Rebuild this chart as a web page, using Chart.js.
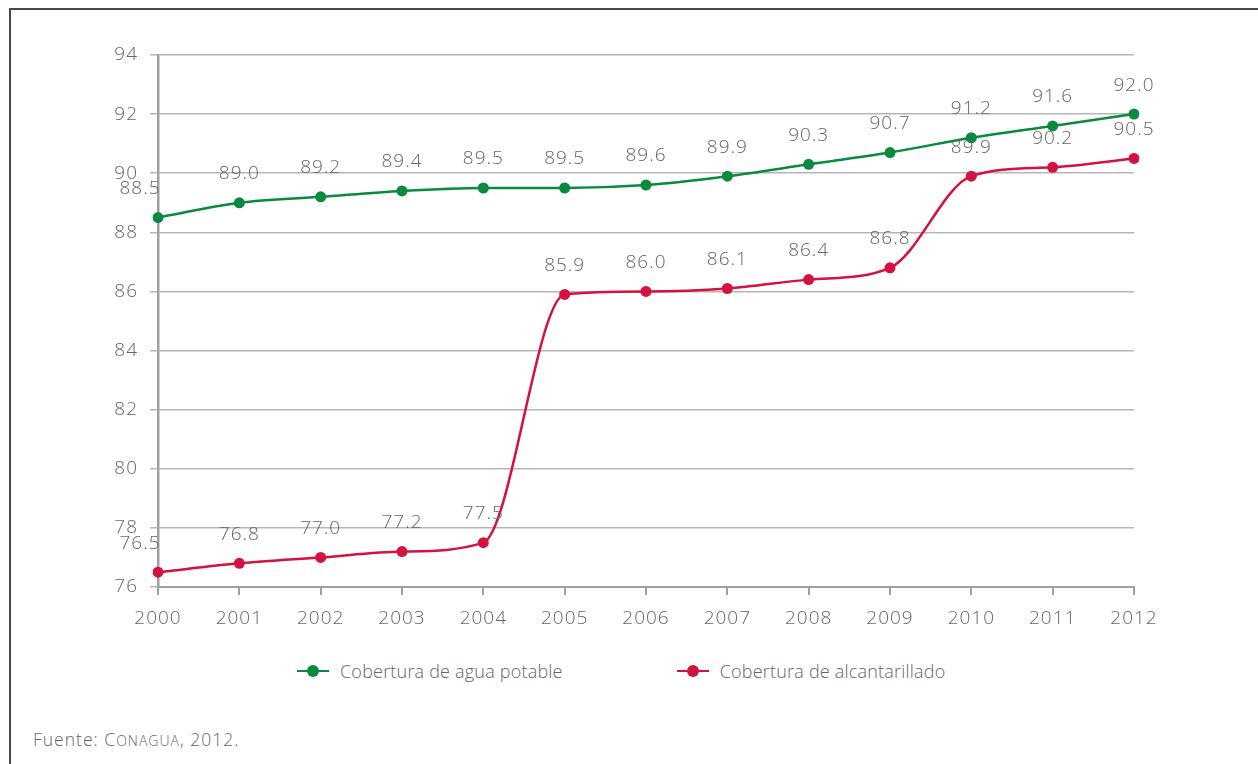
<!DOCTYPE html>
<html lang="es">
<head>
<meta charset="utf-8">
<title>Cobertura de agua potable y alcantarillado</title>
<script src="https://cdn.jsdelivr.net/npm/chart.js@4.4.1/dist/chart.umd.min.js"></script>
<style>
    html, body {
        margin: 0;
        padding: 0;
        width: 1258px;
        height: 764px;
        background: #fff;
        overflow: hidden;
        font-family: 'Open Sans', 'DejaVu Sans', sans-serif;
    }
    .frame {
        position: absolute;
        left: 9px;
        top: 8px;
        width: 1300px;
        height: 800px;
        border-left: 2px solid #4a4a4a;
        border-top: 2px solid #4a4a4a;
    }
    #chartWrap {
        position: absolute;
        left: 0;
        top: 0;
        width: 1258px;
        height: 640px;
    }
    .legend {
        position: absolute;
        top: 658px;
        left: 297px;
        display: flex;
        align-items: center;
        font-size: 18px;
        font-weight: 300;
        letter-spacing: 0.2px;
        color: #666;
    }
    .legend .item {
        display: flex;
        align-items: center;
    }
    .legend .mark {
        position: relative;
        width: 32px;
        height: 26px;
        margin-right: 11px;
    }
    .legend .mark .ln {
        position: absolute;
        left: 0;
        right: 0;
        top: 12px;
        height: 2px;
    }
    .legend .mark .dot {
        position: absolute;
        left: 10px;
        top: 7px;
        width: 12px;
        height: 12px;
        border-radius: 50%;
    }
    .footer {
        position: absolute;
        left: 33px;
        top: 727px;
        font-size: 17.5px;
        font-weight: 300;
        letter-spacing: 1px;
        color: #666;
    }
    .sc {
        font-size: 0.8em;
    }
</style>
</head>
<body>
<div class="frame"></div>
<div id="chartWrap"><canvas id="coberturaChart"></canvas></div>
<div class="legend" id="legend"></div>
<div class="footer">Fuente: C<span class="sc">ONAGUA</span>, 2012.</div>

<script>
// Data
const years = ['2000', '2001', '2002', '2003', '2004', '2005', '2006',
               '2007', '2008', '2009', '2010', '2011', '2012'];
const aguaPotable = [88.5, 89.0, 89.2, 89.4, 89.5, 89.5, 89.6, 89.9, 90.3, 90.7, 91.2, 91.6, 92.0];
const alcantarillado = [76.5, 76.8, 77.0, 77.2, 77.5, 85.9, 86.0, 86.1, 86.4, 86.8, 89.9, 90.2, 90.5];
const yTicks = [76, 78, 80, 82, 84, 86, 88, 90, 92, 94];

const seriesNames = ['Cobertura de agua potable', 'Cobertura de alcantarillado'];
const GREEN = '#0a8a3e';
const RED = '#d3123f';
const TEXT = '#666666';
const GRID = '#b5b5b5';
const FONT = "'Open Sans', 'DejaVu Sans', sans-serif";

// the source typesetting has slightly spaced digits
const spacedText = {
    id: 'spacedText',
    beforeDraw(chart) {
        chart.ctx.letterSpacing = '1px';
    }
};

// value labels above each point
const valueLabels = {
    id: 'valueLabels',
    afterDatasetsDraw(chart) {
        const ctx = chart.ctx;
        ctx.save();
        ctx.font = '300 19px ' + FONT;
        ctx.letterSpacing = '1px';
        ctx.fillStyle = TEXT;
        ctx.textAlign = 'center';
        ctx.textBaseline = 'middle';
        chart.data.datasets.forEach((ds, i) => {
            const meta = chart.getDatasetMeta(i);
            meta.data.forEach((pt, j) => {
                const dx = j === 0 ? -18 : 0;
                ctx.fillText(ds.data[j].toFixed(1), pt.x + dx, pt.y - 29);
            });
        });
        ctx.restore();
    }
};

const makeDataset = (label, data, color) => ({
    label: label,
    data: data,
    borderColor: color,
    backgroundColor: color,
    borderWidth: 2.5,
    pointRadius: 5.5,
    pointHoverRadius: 5.5,
    pointBorderWidth: 0,
    cubicInterpolationMode: 'monotone',
    fill: false
});

new Chart(document.getElementById('coberturaChart'), {
    type: 'line',
    data: {
        labels: years,
        datasets: [
            makeDataset(seriesNames[0], aguaPotable, GREEN),
            makeDataset(seriesNames[1], alcantarillado, RED)
        ]
    },
    options: {
        responsive: true,
        maintainAspectRatio: false,
        animation: false,
        layout: {
            padding: { top: 55, right: 124, left: 0, bottom: 0 }
        },
        plugins: {
            legend: { display: false },
            tooltip: { enabled: false }
        },
        scales: {
            x: {
                offset: false,
                afterFit: (scale) => { scale.height = 53; },
                grid: {
                    drawOnChartArea: false,
                    drawTicks: true,
                    tickLength: 8,
                    color: '#a0a0a0',
                    lineWidth: 2
                },
                border: { color: '#a0a0a0', width: 2 },
                ticks: {
                    font: { size: 19, family: FONT, weight: 300 },
                    color: TEXT,
                    padding: 12,
                    maxRotation: 0,
                    autoSkip: false
                }
            },
            y: {
                min: yTicks[0],
                max: yTicks[yTicks.length - 1],
                afterFit: (scale) => { scale.width = 158; },
                afterBuildTicks: (scale) => {
                    scale.ticks = yTicks.map(v => ({ value: v }));
                },
                grid: {
                    color: GRID,
                    lineWidth: 1.5,
                    tickLength: 8
                },
                border: { color: '#a0a0a0', width: 2.5 },
                ticks: {
                    font: { size: 19, family: FONT, weight: 300 },
                    color: TEXT,
                    padding: 12
                }
            }
        }
    },
    plugins: [spacedText, valueLabels]
});

// HTML legend
const legendEl = document.getElementById('legend');
[[seriesNames[0], GREEN], [seriesNames[1], RED]].forEach(([name, color], i) => {
    const item = document.createElement('div');
    item.className = 'item';
    if (i > 0) item.style.marginLeft = '114px';
    item.innerHTML = '<div class="mark"><div class="ln" style="background:' + color +
        '"></div><div class="dot" style="background:' + color + '"></div></div><span>' +
        name + '</span>';
    legendEl.appendChild(item);
});
</script>
</body>
</html>
